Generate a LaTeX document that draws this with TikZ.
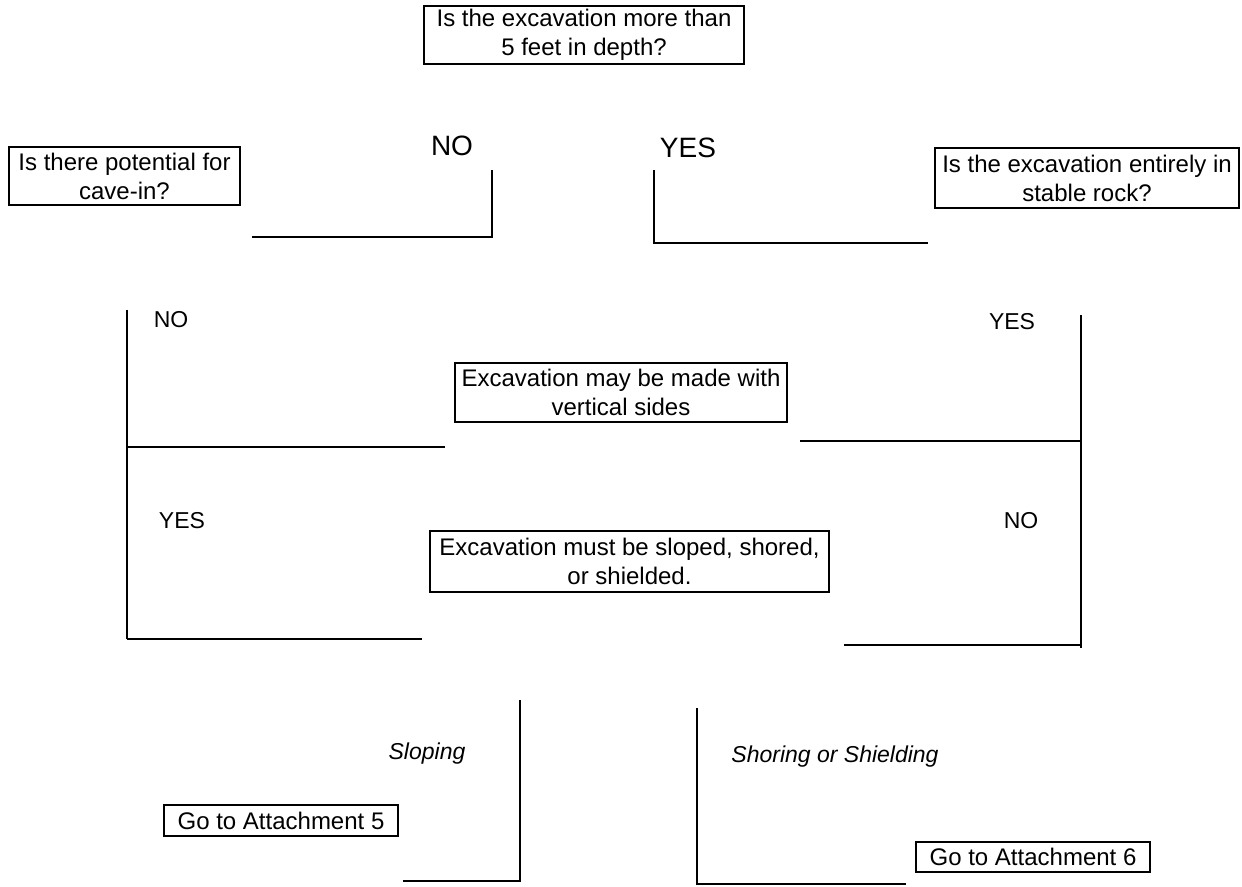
\documentclass[tikz,border=0pt]{standalone}
\usepackage{fontspec}
\setmainfont{Liberation Sans}
\begin{document}
\begin{tikzpicture}[x=1pt,y=-1pt,
  qbox/.style={draw, line width=1.3pt, inner sep=0pt, align=center, font=\fontsize{24}{29}\selectfont},
  lbl/.style={inner sep=0pt, font=\fontsize{23}{27}\selectfont},
  toplbl/.style={inner sep=0pt, font=\fontsize{28}{32}\selectfont},
  itl/.style={inner sep=0pt, font=\fontsize{23}{27}\selectfont\itshape},
  wire/.style={line width=2.2pt}]
\useasboundingbox (0,0) rectangle (1242,886);
\fill[white] (0,0) rectangle (1242,886);

% question / result boxes
\node[qbox, minimum width=320pt, minimum height=58pt] (depth) at (584,35) {Is the excavation more than\\5 feet in depth?};
\node[qbox, minimum width=231pt, minimum height=58pt] (cave) at (124.5,176) {Is there potential for\\cave-in?};
\node[qbox, minimum width=304pt, minimum height=60pt] (rock) at (1087,178) {Is the excavation entirely in\\stable rock?};
\node[qbox, minimum width=332pt, minimum height=59pt] (vert) at (621,392.5) {Excavation may be made with\\vertical sides};
\node[qbox, minimum width=399pt, minimum height=61pt] (slope) at (629.5,561.5) {Excavation must be sloped, shored,\\or shielded.};
\node[qbox, minimum width=234pt, minimum height=31pt] (att5) at (281,820.5) {Go to Attachment 5};
\node[qbox, minimum width=234pt, minimum height=30pt] (att6) at (1033,857) {Go to Attachment 6};

% labels
\node[toplbl] (noA) at (452,146) {NO};
\node[toplbl] (yesA) at (688,148) {YES};
\node[lbl] (noB) at (171,320) {NO};
\node[lbl] (yesB) at (1012,322) {YES};
\node[lbl] (yesC) at (182,521) {YES};
\node[lbl] (noC) at (1021,521) {NO};
\node[itl] (slp) at (427,754) {Sloping};
\node[itl] (shr) at (835,757) {Shoring or Shielding};

% line end points
\coordinate (a1) at (492,170); \coordinate (a2) at (252,237);
\coordinate (b1) at (654,170); \coordinate (b2) at (928,243);
\coordinate (c1) at (127,310); \coordinate (c2) at (127,639);
\coordinate (c3) at (127,447); \coordinate (c4) at (445,447);
\coordinate (c5) at (422,639);
\coordinate (d1) at (1081,315); \coordinate (d2) at (1081,648);
\coordinate (d3) at (1081,441); \coordinate (d4) at (800,441);
\coordinate (d5) at (1081,645); \coordinate (d6) at (844,645);
\coordinate (e1) at (520,700); \coordinate (e2) at (403,881);
\coordinate (f1) at (697,708); \coordinate (f2) at (906,884);

\draw[wire] (a1) |- (a2);
\draw[wire] (b1) |- (b2);
\draw[wire] (c1) -- (c2);
\draw[wire] (c3) -- (c4);
\draw[wire] (c2) -- (c5);
\draw[wire] (d1) -- (d2);
\draw[wire] (d3) -- (d4);
\draw[wire] (d5) -- (d6);
\draw[wire] (e1) |- (e2);
\draw[wire] (f1) |- (f2);
\end{tikzpicture}
\end{document}
